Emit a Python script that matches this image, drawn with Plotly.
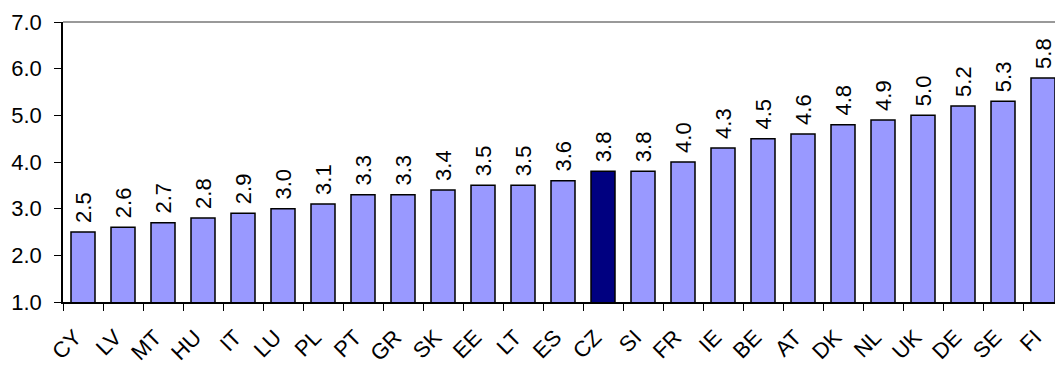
import plotly.graph_objects as go

countries = ["CY", "LV", "MT", "HU", "IT", "LU", "PL", "PT", "GR", "SK", "EE", "LT", "ES",
             "CZ", "SI", "FR", "IE", "BE", "AT", "DK", "NL", "UK", "DE", "SE", "FI"]
values = [2.5, 2.6, 2.7, 2.8, 2.9, 3.0, 3.1, 3.3, 3.3, 3.4, 3.5, 3.5, 3.6,
          3.8, 3.8, 4.0, 4.3, 4.5, 4.6, 4.8, 4.9, 5.0, 5.2, 5.3, 5.8]
highlight = "CZ"

colors = ["#000080" if c == highlight else "#9999FF" for c in countries]
font_family = "Liberation Sans, Arial, sans-serif"

fig = go.Figure(go.Bar(
    x=countries,
    y=values,
    marker=dict(color=colors, line=dict(color="black", width=1.5)),
    width=0.6,
    text=["\u00a0" + f"{v:.1f}" for v in values],
    textposition="outside",
    textangle=-90,
    constraintext="none",
    textfont=dict(family=font_family, size=22, color="black"),
    cliponaxis=False,
))

fig.update_layout(
    width=1055,
    height=367,
    margin=dict(l=63, r=0, t=22, b=65),
    plot_bgcolor="white",
    paper_bgcolor="white",
    showlegend=False,
    font=dict(family=font_family, size=22, color="black"),
    bargap=0.4,
)

fig.update_xaxes(
    type="category",
    range=[-0.5, 24.3],
    tickangle=-45,
    tickson="boundaries",
    ticks="outside",
    ticklen=7,
    tickcolor="black",
    showline=True,
    linecolor="black",
    linewidth=1.5,
    showgrid=False,
    automargin=False,
    ticklabelstandoff=12,
    ticklabelshift=-8,
    tickfont=dict(family=font_family, size=22, color="black"),
)

fig.update_yaxes(
    range=[1, 7],
    dtick=1,
    tick0=1,
    tickformat=".1f",
    ticks="outside",
    ticklen=7,
    tickcolor="black",
    showline=True,
    linecolor="black",
    linewidth=1.5,
    showgrid=False,
    zeroline=False,
    automargin=False,
    ticklabelstandoff=8,
    tickfont=dict(family=font_family, size=22, color="black"),
)

fig.add_shape(type="line", xref="paper", yref="paper", x0=0, x1=1, y0=1, y1=1,
              line=dict(color="#999999", width=2))

fig.write_html("out.html")
